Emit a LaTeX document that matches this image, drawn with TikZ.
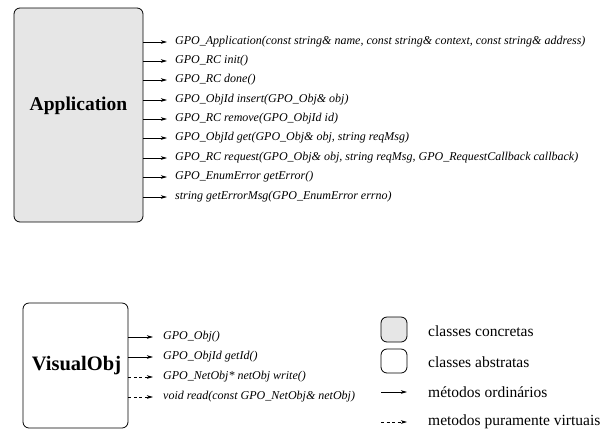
\documentclass[tikz,border=0pt]{standalone}
\usepackage{fontspec}
\setmainfont{Liberation Serif}
\usetikzlibrary{arrows.meta}
\definecolor{boxgray}{RGB}{230,230,230}
\tikzset{
  classbox/.style={draw=black, line width=0.8pt, rounded corners=6pt, inner sep=0pt},
  classlabel/.style={font=\fontsize{19.5}{22}\selectfont\bfseries},
  meth/.style={anchor=west, inner sep=0pt, font=\fontsize{12}{14}\selectfont\itshape},
  legtext/.style={anchor=west, inner sep=0pt, font=\fontsize{15.5}{18}\selectfont},
  ordarrow/.style={line width=0.7pt, -{Stealth[length=6pt,width=3.5pt,inset=1.5pt]}},
  virtarrow/.style={ordarrow, dash pattern=on 3pt off 2.5pt},
}
\begin{document}
\begin{tikzpicture}[x=1pt,y=-1pt]
\useasboundingbox (0,0) rectangle (607,429);
\clip (0,0) rectangle (607,429);
% Application
\node[classbox, fill=boxgray, minimum width=129pt, minimum height=214pt] (app) at (78.5,115) {};
\node[classlabel] (applabel) at (78.5,106) {Application};
\foreach \i/\y/\t in {
  1/42/{GPO\_Application(const string\& name, const string\& context, const string\& address)},
  2/61/{GPO\_RC init()},
  3/80/{GPO\_RC done()},
  4/100/{GPO\_ObjId insert(GPO\_Obj\& obj)},
  5/119/{GPO\_RC remove(GPO\_ObjId id)},
  6/138/{GPO\_ObjId get(GPO\_Obj\& obj, string reqMsg)},
  7/158/{GPO\_RC request(GPO\_Obj\& obj, string reqMsg, GPO\_RequestCallback callback)},
  8/177/{GPO\_EnumError getError()},
  9/197/{string getErrorMsg(GPO\_EnumError errno)}}{
  \node[meth] (am\i) at (175,\y) {\t};
  \draw[ordarrow] (app.east |- am\i.west) -- ([xshift=-8pt]am\i.west);
}
% VisualObj
\node[classbox, fill=white, minimum width=105pt, minimum height=125pt] (vis) at (75.5,365.5) {};
\node[classlabel, font=\fontsize{20.5}{23}\selectfont\bfseries] (vislabel) at (76.5,366) {VisualObj};
\foreach \i/\y/\t/\s in {
  1/337/{GPO\_Obj()}/ordarrow,
  2/357/{GPO\_ObjId getId()}/ordarrow,
  3/377/{GPO\_NetObj* netObj write()}/virtarrow,
  4/397/{void read(const GPO\_NetObj\& netObj)}/virtarrow}{
  \node[meth] (vm\i) at (163,\y) {\t};
  \draw[\s] (vis.east |- vm\i.west) -- ([xshift=-10pt]vm\i.west);
}
% Legend
\node[classbox, fill=boxgray, minimum width=26pt, minimum height=25pt] (lg1) at (394,329.5) {};
\node[classbox, fill=white, minimum width=26pt, minimum height=24pt] (lg2) at (394,361) {};
\node[legtext] (lt1) at (428,331) {classes concretas};
\node[legtext] (lt2) at (428,362) {classes abstratas};
\node[legtext] (lt3) at (428,392) {métodos ordinários};
\node[legtext] (lt4) at (428,422) {metodos puramente virtuais};
\coordinate (la3) at (381,392);
\coordinate (la4) at (381,422);
\draw[ordarrow] (la3) -- ([xshift=-21pt]lt3.west);
\draw[virtarrow] (la4) -- ([xshift=-21pt]lt4.west);
\end{tikzpicture}
\end{document}
